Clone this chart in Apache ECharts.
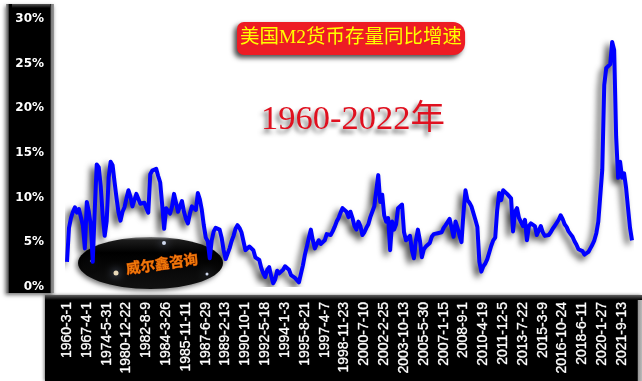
<!DOCTYPE html>
<html>
<head>
<meta charset="utf-8">
<style>
  html, body { margin: 0; padding: 0; background: #fff; }
  #chart { width: 642px; height: 381px; }
</style>
<script src="https://cdn.jsdelivr.net/npm/echarts@6/dist/echarts.min.js"></script>
</head>
<body>
<div id="chart"></div>
<script>
// labels along the bottom, one every 10 points
var tickLabels = [
  "1960-3-1", "1967-4-1", "1974-5-31", "1980-12-22", "1982-8-9", "1984-3-26",
  "1985-11-11", "1987-6-29", "1989-2-13", "1990-10-1", "1992-5-18", "1994-1-3",
  "1995-8-21", "1997-4-7", "1998-11-23", "2000-7-10", "2002-2-25", "2003-10-13",
  "2005-5-30", "2007-1-15", "2008-9-1", "2010-4-19", "2011-12-5", "2013-7-22",
  "2015-3-9", "2016-10-24", "2018-6-11", "2020-1-27", "2021-9-13"
];

// M2 yoy growth in %
var m2Growth = [
  2.6, 6.4, 7.5, 8.2, 8.7, 8.1, 8.5, 8.3, 6.7, 4.1,
  9.3, 8.2, 6.7, 2.6, 8.4, 13.5, 13.2, 11.1, 7.8, 5.5,
  7.1, 12.0, 13.8, 13.4, 11.5, 9.7, 8.1, 7.2, 8.2, 8.7,
  9.7, 10.6, 9.9, 8.8, 9.5, 10.2, 10.1, 9.1, 9.1, 9.2,
  8.6, 8.1, 12.4, 12.8, 12.9, 13.0, 12.2, 11.5, 9.0, 6.3,
  8.6, 8.3, 8.0, 8.8, 10.2, 10.4, 8.2, 8.8, 9.4, 8.2,
  7.4, 6.9, 8.0, 8.8, 9.0, 8.4, 10.3, 9.6, 8.4, 6.7,
  5.3, 4.9, 3.0, 5.0, 6.0, 6.4, 6.6, 6.2, 5.3, 3.9,
  2.9, 3.0, 4.1, 4.9, 5.5, 6.3, 6.7, 6.4, 5.9, 4.9,
  3.9, 4.0, 4.3, 4.5, 3.9, 3.1, 3.0, 2.8, 1.9, 1.3,
  0.9, 1.7, 2.0, 1.0, 0.2, 0.6, 1.6, 1.3, 1.3, 1.7,
  2.1, 2.2, 1.7, 1.1, 0.9, 0.8, 0.6, 0.3, 0.3, 2.2,
  3.4, 4.3, 5.3, 6.2, 5.0, 4.1, 4.6, 5.0, 4.6, 4.4,
  5.0, 5.7, 5.7, 5.6, 6.0, 6.5, 7.1, 7.5, 8.1, 8.6,
  8.7, 8.2, 7.6, 8.2, 7.5, 6.6, 6.2, 7.1, 6.6, 5.6,
  5.9, 6.4, 6.8, 7.6, 8.2, 8.8, 9.0, 12.3, 9.3, 10.1,
  7.8, 7.1, 7.5, 3.9, 7.1, 6.2, 6.8, 8.6, 8.8, 9.0,
  5.9, 5.0, 5.0, 5.5, 3.9, 3.0, 5.0, 6.2, 5.0, 3.1,
  4.0, 4.3, 4.1, 4.7, 5.4, 5.7, 5.5, 5.8, 5.7, 5.9,
  6.4, 6.7, 6.6, 7.4, 6.4, 5.4, 7.1, 6.4, 5.5, 4.8,
  8.1, 10.6, 9.5, 9.2, 8.8, 8.6, 7.3, 6.5, 2.6, 1.5,
  2.1, 2.4, 2.9, 3.1, 4.4, 5.0, 5.3, 8.4, 10.3, 9.5,
  10.6, 10.4, 10.2, 10.0, 9.7, 6.0, 8.2, 8.6, 7.5, 7.3,
  6.6, 7.3, 5.0, 6.6, 6.9, 6.8, 6.6, 5.6, 5.4, 6.6,
  5.9, 5.5, 5.4, 5.6, 5.9, 6.3, 6.6, 6.8, 7.3, 7.8,
  7.4, 6.8, 6.5, 6.0, 5.7, 5.4, 4.9, 4.5, 4.0, 3.8,
  3.8, 3.4, 3.2, 3.7, 4.1, 4.5, 5.0, 5.8, 7.1, 7.1,
  12.9, 22.4, 24.3, 24.1, 24.7, 27.2, 26.3, 16.6, 12.0, 13.8,
  12.0, 12.5, 10.9, 8.6, 6.4, 5.0
];

var titleText = "美国M2货币存量同比增速";
var rangeText = "1960-2022年";
var logoText = "威尔鑫咨询";
var yTicks = { min: 0, max: 30, interval: 5 };

var categories = m2Growth.map(function (v, i) {
  return i % 10 === 0 ? tickLabels[i / 10] : "";
});

var chart = echarts.init(document.getElementById("chart"));

function hGrad(stops) {
  return new echarts.graphic.LinearGradient(0, 0, 1, 0, stops);
}
function vGrad(stops) {
  return new echarts.graphic.LinearGradient(0, 0, 0, 1, stops);
}

// small glowing dots on the logo
function star(x, y, r, color) {
  return {
    type: "circle", z: -1,
    shape: { cx: x, cy: y, r: r },
    style: { fill: color, shadowColor: "#a9bbe6", shadowBlur: 8 }
  };
}

var option = {
  animation: false,
  backgroundColor: "#fff",
  title: [
    {
      text: titleText,
      left: 237,
      top: 22,
      padding: [5, 3, 6, 3],
      backgroundColor: "#ed1c24",
      borderRadius: [7, 12, 12, 7],
      shadowColor: "rgba(0,0,0,0.7)",
      shadowBlur: 5,
      shadowOffsetX: -3,
      shadowOffsetY: 3,
      textStyle: {
        color: "#ffff00",
        fontFamily: "'Liberation Serif', 'Noto Sans CJK SC'",
        fontSize: 19.5,
        fontWeight: "normal",
        lineHeight: 22
      }
    },
    {
      text: rangeText,
      left: 261,
      top: 102,
      padding: 0,
      textStyle: {
        color: "#e0101f",
        fontFamily: "'Liberation Serif', 'Noto Sans CJK SC'",
        fontSize: 34.5,
        fontWeight: "normal",
        lineHeight: 36,
        textShadowColor: "rgba(0,0,0,0.55)",
        textShadowBlur: 4,
        textShadowOffsetX: -3,
        textShadowOffsetY: 4
      }
    }
  ],
  grid: { left: 67, right: 10, top: 17, bottom: 96 },
  xAxis: {
    type: "category",
    data: categories,
    boundaryGap: false,
    axisLine: { show: false },
    axisTick: { show: false },
    splitLine: { show: false },
    axisLabel: {
      interval: function (i) { return i % 10 === 0; },
      rotate: 90,
      margin: 17,
      color: "#fff",
      fontFamily: "'Liberation Sans'",
      fontSize: 14,
      textBorderColor: "#fff",
      textBorderWidth: 0.3
    }
  },
  yAxis: {
    type: "value",
    min: yTicks.min,
    max: yTicks.max,
    interval: yTicks.interval,
    axisLine: { show: false },
    axisTick: { show: false },
    splitLine: { show: false },
    axisLabel: {
      margin: 23,
      verticalAlign: "top",
      lineHeight: 4,
      color: "#fff",
      fontFamily: "'DejaVu Sans'",
      fontWeight: "bold",
      fontSize: 12,
      formatter: "{value}%"
    }
  },
  series: [
    {
      type: "line",
      data: m2Growth,
      showSymbol: false,
      symbol: "none",
      z: 5,
      lineStyle: {
        color: "#0000ff",
        width: 4,
        join: "round",
        shadowColor: "rgba(0,0,0,0.75)",
        shadowBlur: 6,
        shadowOffsetX: -4,
        shadowOffsetY: 4
      }
    }
  ],
  graphic: [
    // left panel
    {
      type: "rect", z: -3,
      shape: { x: 6, y: 4, width: 48, height: 289 },
      style: {
        fill: hGrad([
          { offset: 0, color: "#9a9a9a" },
          { offset: 0.05, color: "#555" },
          { offset: 0.06, color: "#000" },
          { offset: 0.92, color: "#000" },
          { offset: 0.94, color: "#777" },
          { offset: 1, color: "#999" }
        ]),
        shadowColor: "rgba(0,0,0,0.55)",
        shadowBlur: 4,
        shadowOffsetX: -1,
        shadowOffsetY: 2
      }
    },
    {
      type: "rect", z: -3,
      shape: { x: 12, y: 4, width: 38, height: 4 },
      style: { fill: vGrad([{ offset: 0, color: "#555" }, { offset: 1, color: "#000" }]) }
    },
    // bottom panel
    {
      type: "rect", z: -3,
      shape: { x: 45, y: 295, width: 597, height: 86 },
      style: {
        fill: hGrad([
          { offset: 0, color: "#000" },
          { offset: 0.992, color: "#000" },
          { offset: 0.994, color: "#999" },
          { offset: 1, color: "#bbb" }
        ]),
        shadowColor: "rgba(0,0,0,0.5)",
        shadowBlur: 3,
        shadowOffsetX: -1
      }
    },
    {
      type: "rect", z: -3,
      shape: { x: 45, y: 295, width: 597, height: 5 },
      style: { fill: vGrad([{ offset: 0, color: "#606060" }, { offset: 1, color: "#000" }]) }
    },
    // logo
    {
      type: "ellipse", z: -2,
      shape: { cx: 150.5, cy: 263, rx: 72.5, ry: 26 },
      style: {
        fill: vGrad([
          { offset: 0, color: "#8a8a8a" },
          { offset: 0.06, color: "#1c1c1c" },
          { offset: 0.3, color: "#000" },
          { offset: 1, color: "#111" }
        ]),
        shadowColor: "rgba(0,0,0,0.55)",
        shadowBlur: 5,
        shadowOffsetX: -2,
        shadowOffsetY: 2
      }
    },
    star(164, 243, 2, "#cfd8ee"),
    star(116, 273, 2.5, "#e8d8b8"),
    star(207, 274, 1.5, "#cfd8ee"),
    star(91, 261, 1.2, "#8fa0c8"),
    {
      type: "text", z: 1,
      x: 162, y: 263.5, rotation: 0.14,
      style: {
        text: logoText,
        x: 0, y: 0,
        align: "center",
        verticalAlign: "middle",
        font: "bold 14.5px 'Noto Sans CJK SC'",
        fill: "#f27a0a",
        stroke: "#c84400",
        lineWidth: 0.6,
        shadowColor: "#ffd070",
        shadowBlur: 3
      }
    }
  ]
};

chart.setOption(option);
</script>
</body>
</html>
